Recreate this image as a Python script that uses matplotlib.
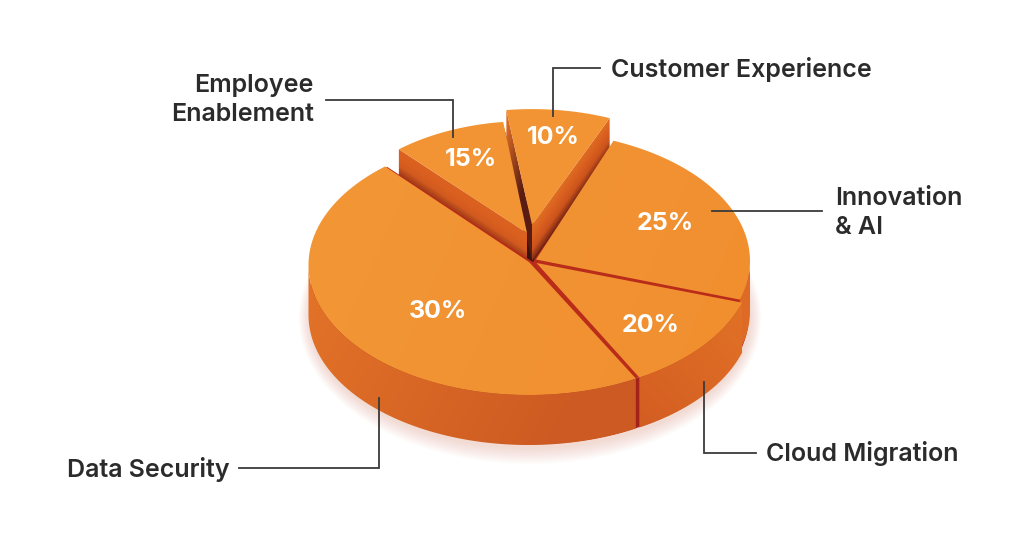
import numpy as np
import matplotlib
matplotlib.use("Agg")
import matplotlib.pyplot as plt
from matplotlib.colors import LinearSegmentedColormap
from matplotlib.patches import Polygon

names = ['Customer Experience', 'Employee\nEnablement', 'Data Security', 'Cloud Migration', 'Innovation\n& AI']
pct_labels = ['10%', '15%', '30%', '20%', '25%']
# how wide each slice is really drawn in the picture, in degrees (not the same as the printed %)
drawn_degrees = [29.5, 33.5, 168.5, 43.5, 85.0]

CX, CY, RX, RY = 530, 265, 220, 130
START = 67.7
TOP = '#F29433'
FONT = ['Inter', 'DejaVu Sans']

# radius scale, dx, dy of the rim, apex position, height of the wall
geom = {
    'Customer Experience': dict(r=.93, dx=2, dy=-35, apex=(532, 225), depth=36),
    'Employee\nEnablement': dict(r=.90, dx=-2, dy=-27, apex=(527, 233), depth=27),
    'Data Security': dict(r=1, dx=-1.5, dy=0, apex=(529, 262), depth=50),
    'Cloud Migration': dict(r=1, dx=2, dy=-1, apex=(536.5, 263), depth=50),
    'Innovation\n& AI': dict(r=1, dx=0, dy=-4, apex=(536, 259.5), depth=50),
}

fig = plt.figure(figsize=(10.24, 5.53), dpi=100)
ax = fig.add_axes([0, 0, 1, 1])
ax.set_xlim(0, 1024)
ax.set_ylim(553, 0)
ax.axis('off')

gx, gy = np.meshgrid(np.arange(1024) + .5, np.arange(553) + .5)


def arc(t0, t1, g, extra=0):
    t = np.radians(np.linspace(t0, t1, 80))
    x = CX + g['dx'] + g['r'] * RX * np.cos(t)
    y = CY + g['dy'] + extra - g['r'] * RY * np.sin(t)
    return np.column_stack([x, y])


def grad_fill(poly, p0, p1, colors, z):
    # linear gradient from p0 to p1, clipped to the polygon
    d = np.array(p1, float) - np.array(p0, float)
    v = ((gx - p0[0]) * d[0] + (gy - p0[1]) * d[1]) / (d @ d)
    cmap = LinearSegmentedColormap.from_list('g', colors)
    im = ax.imshow(np.clip(v, 0, 1), cmap=cmap, vmin=0, vmax=1, extent=(0, 1024, 553, 0),
                   zorder=z, interpolation='bilinear', aspect='auto')
    patch = Polygon(poly, closed=True, transform=ax.transData, fc='none', ec='none')
    ax.add_patch(patch)
    im.set_clip_path(patch)


# soft shadow below the disk
for i in range(14):
    grow = 16 - i * 1.2
    t = np.radians(np.linspace(0, 360, 200))
    ring = np.column_stack([CX + (RX + grow * .7) * np.cos(t), CY + 53 + (RY + grow) * np.sin(t)])
    ax.add_patch(Polygon(ring, closed=True, fc='#D9683A', ec='none', alpha=.016, zorder=1))

# slice angle ranges from the drawn widths
edges = START + np.concatenate([[0], np.cumsum(drawn_degrees)])
ranges = {n: (edges[i], edges[i + 1]) for i, n in enumerate(names)}

# red colour seen through the gaps of the three front slices
t0 = ranges['Data Security'][0]
t1 = ranges['Innovation\n& AI'][1]
base = dict(r=.995, dx=0, dy=0)
ax.add_patch(Polygon(np.vstack([[(533, 262)], arc(t0, t1, base)]), closed=True, fc='#B92C1A', ec='none', zorder=5))
ax.add_patch(Polygon(np.vstack([arc(180, 360, base), arc(360, 180, base, 50)]), closed=True,
                     fc='#A3231A', ec='none', zorder=5))

# the two raised slices at the back, with dark backing so no white shows at the centre
dark_gap = np.array([(503, 125), (534, 225), (534, 264), (526, 264), (524, 235)])
ax.add_patch(Polygon(dark_gap, closed=True, fc='#3A1410', ec='none', zorder=2))
backing = np.array([(532, 225), (600, 150), (625, 155), (560, 250), (534, 266)])
ax.add_patch(Polygon(backing, closed=True, fc='#6A2014', ec='none', zorder=2))

g = geom['Customer Experience']
a, b = ranges['Customer Experience']
rim = arc(a, b, g)
ax_top = np.array(g['apex'], float)
low = ax_top + (0, g['depth'])
right_wall = np.array([rim[0], ax_top, low, rim[0] + (0, g['depth'])])
grad_fill(right_wall, (570, 172), (587, 184), ['#E06D22', '#D9601F', '#CC541C', '#7A2614'], 3)
left_wall = np.array([rim[-1], ax_top, low, rim[-1] + (0, g['depth'])])
grad_fill(left_wall, (500, 150), (532, 160), ['#D96A24', '#5A1C12'], 3)
ax.add_patch(Polygon(np.vstack([[ax_top], rim]), closed=True, fc=TOP, ec='none', zorder=4))

g = geom['Employee\nEnablement']
a, b = ranges['Employee\nEnablement']
rim = arc(a, b, g)
ax_top = np.array(g['apex'], float)
low = ax_top + (0, g['depth'])
wall = np.array([rim[-1], ax_top, low, rim[-1] + (0, g['depth'])])
grad_fill(wall, (463, 191), (451, 209), ['#DB621F', '#D9601F', '#D25A1E', '#A03A18'], 4)
ax.add_patch(Polygon(np.vstack([[ax_top], rim]), closed=True, fc=TOP, ec='none', zorder=4.2))

# the three slices at the front
for name, wall_colors in [('Innovation\n& AI', ['#E27327', '#DD6B25']),
                          ('Cloud Migration', ['#D45E22', '#E07026']),
                          ('Data Security', ['#E27228', '#CD5A22'])]:
    g = geom[name]
    a, b = ranges[name]
    z = {'Innovation\n& AI': 6, 'Cloud Migration': 7, 'Data Security': 8}[name]
    wa, wb = max(a, 180), min(b, 360)
    wall = np.vstack([arc(wa, wb, g), arc(wb, wa, g, g['depth'])])
    if name == 'Data Security':
        grad_fill(wall, (310, 300), (560, 440), wall_colors, z)
    else:
        grad_fill(wall, (640, 420), (745, 320), wall_colors, z)
    rim = arc(a, b, g)
    grad_fill(np.vstack([[g['apex']], rim]), (330, 200), (740, 380), ['#F29636', '#F18F2F'], z + .2)

# leader lines
leaders = [
    [(553, 116), (553, 68), (600, 68)],
    [(326, 100), (453, 100), (453, 137)],
    [(712, 211), (822, 211)],
    [(704, 382), (704, 453), (756, 453)],
    [(239, 468), (379, 468), (379, 398)],
]
for line in leaders:
    xs, ys = zip(*line)
    ax.plot(xs, ys, color='#3A3A3A', lw=1.3, solid_joinstyle='miter', zorder=10)

# labels
label_pos = {
    'Customer Experience': (611, 70, 'left'),
    'Employee\nEnablement': (314, 100, 'right'),
    'Data Security': (67, 469, 'left'),
    'Cloud Migration': (766, 454, 'left'),
    'Innovation\n& AI': (835, 213, 'left'),
}
for n in names:
    x, y, ha = label_pos[n]
    ax.text(x, y, n, ha=ha, va='center', fontsize=18, fontweight='semibold', color='#2B2B2B',
            family=FONT, linespacing=1.3, zorder=11)

pct_pos = [(553, 137), (471, 160), (438, 311), (651, 325), (665, 223)]
for p, (x, y) in zip(pct_labels, pct_pos):
    ax.text(x, y, p, ha='center', va='center', fontsize=18, fontweight='bold', color='white',
            family=FONT, zorder=11)

fig.savefig('out.png', dpi=100, facecolor='white')
